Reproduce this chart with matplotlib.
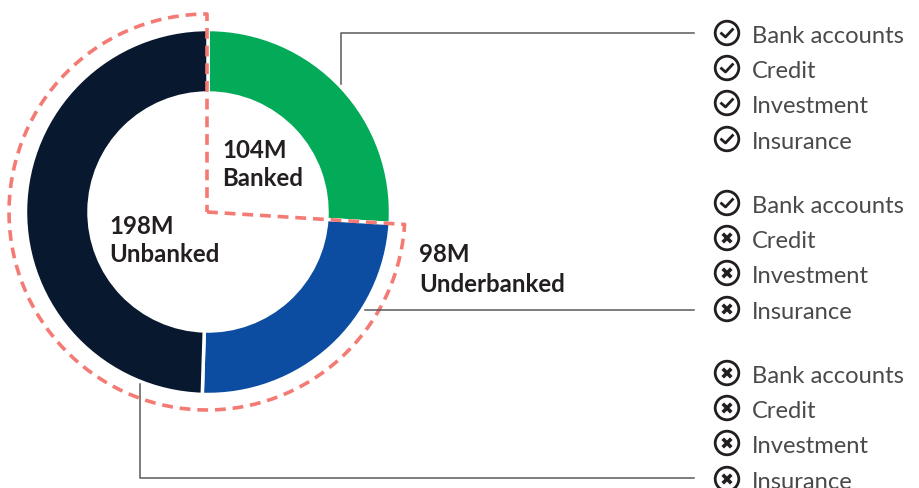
import numpy as np
import matplotlib
matplotlib.use("Agg")
import matplotlib.pyplot as plt
from matplotlib.patches import Circle

segment_names = ["Banked", "Underbanked", "Unbanked"]
segment_values = [104, 98, 198]
segment_colors = ["#03AA58", "#0C4DA2", "#08182F"]
products = ["Bank accounts", "Credit", "Investment", "Insurance"]
# 1 = has the product, 0 = doesn't
access = [[1, 1, 1, 1], [1, 0, 0, 0], [0, 0, 0, 0]]

ink = "#231F20"
gray = "#5A5A5A"
salmon = "#F47A74"
cx, cy = 208, 212
r_out = 182.5
r_in = 119
r_dash = 198

plt.rcParams["font.family"] = "Lato"
fig = plt.figure(figsize=(9.2, 4.88), dpi=100)
ax = fig.add_axes([0, 0, 1, 1])

# y is flipped, so counterclock=True runs clockwise on screen
wedges, _ = ax.pie(segment_values, colors=segment_colors, center=(cx, cy), radius=r_out,
                   startangle=-90, counterclock=True, frame=False,
                   wedgeprops=dict(width=r_out - r_in, edgecolor="white", linewidth=2.5))
ax.set_xlim(0, 920)
ax.set_ylim(488, 0)
ax.set_aspect("equal")
ax.axis("off")

# dashed outline around the two groups that are not fully banked
start = 360 * segment_values[0] / sum(segment_values) - 90
t = np.radians(np.linspace(start, 270, 200))
dx = np.r_[cx - 1, cx - 1 + r_dash * np.cos(t), cx - 1]
dy = np.r_[cy, cy + r_dash * np.sin(t), cy]
ax.plot(dx, dy, color=salmon, lw=2.6, dashes=(3, 1.9), zorder=5)

# leader lines
ax.plot([341, 341, 694], [84, 33, 33], color=gray, lw=1.1, zorder=1)
ax.plot([365, 694], [310, 310], color=gray, lw=1.1, zorder=6)
ax.plot([140, 140, 694], [384, 478, 478], color=gray, lw=1.1, zorder=1)

# segment labels
label_kw = dict(fontsize=17.3, color=ink, weight="bold", va="center")
ax.text(222, 150, f"{segment_values[0]}M", **label_kw)
ax.text(222, 178, segment_names[0], **label_kw)
ax.text(419, 255, f"{segment_values[1]}M", **label_kw)
ax.text(419, 284, segment_names[1], **label_kw)
ax.text(109, 227, f"{segment_values[2]}M", **label_kw)
ax.text(109, 255, segment_names[2], **label_kw)

# product lists with check / cross icons
row_y = [[33, 68, 103, 139], [203, 238, 273, 309], [373, 408, 443, 479]]
for rows, flags in zip(row_y, access):
    for y, name, ok in zip(rows, products, flags):
        ax.add_patch(Circle((727, y), 11.8, fc="white", ec=ink, lw=2))
        if ok:
            ax.plot([721.5, 725.5, 732.5], [y + 0.5, y + 4, y - 3.5], color=ink, lw=2)
        else:
            ax.plot([724, 730], [y - 3, y + 3], color=ink, lw=2.6)
            ax.plot([724, 730], [y + 3, y - 3], color=ink, lw=2.6)
        ax.text(752, y + 3.5, name, fontsize=17.1, color="#4A4A4A", va="center")

fig.savefig("out.png", dpi=100)
